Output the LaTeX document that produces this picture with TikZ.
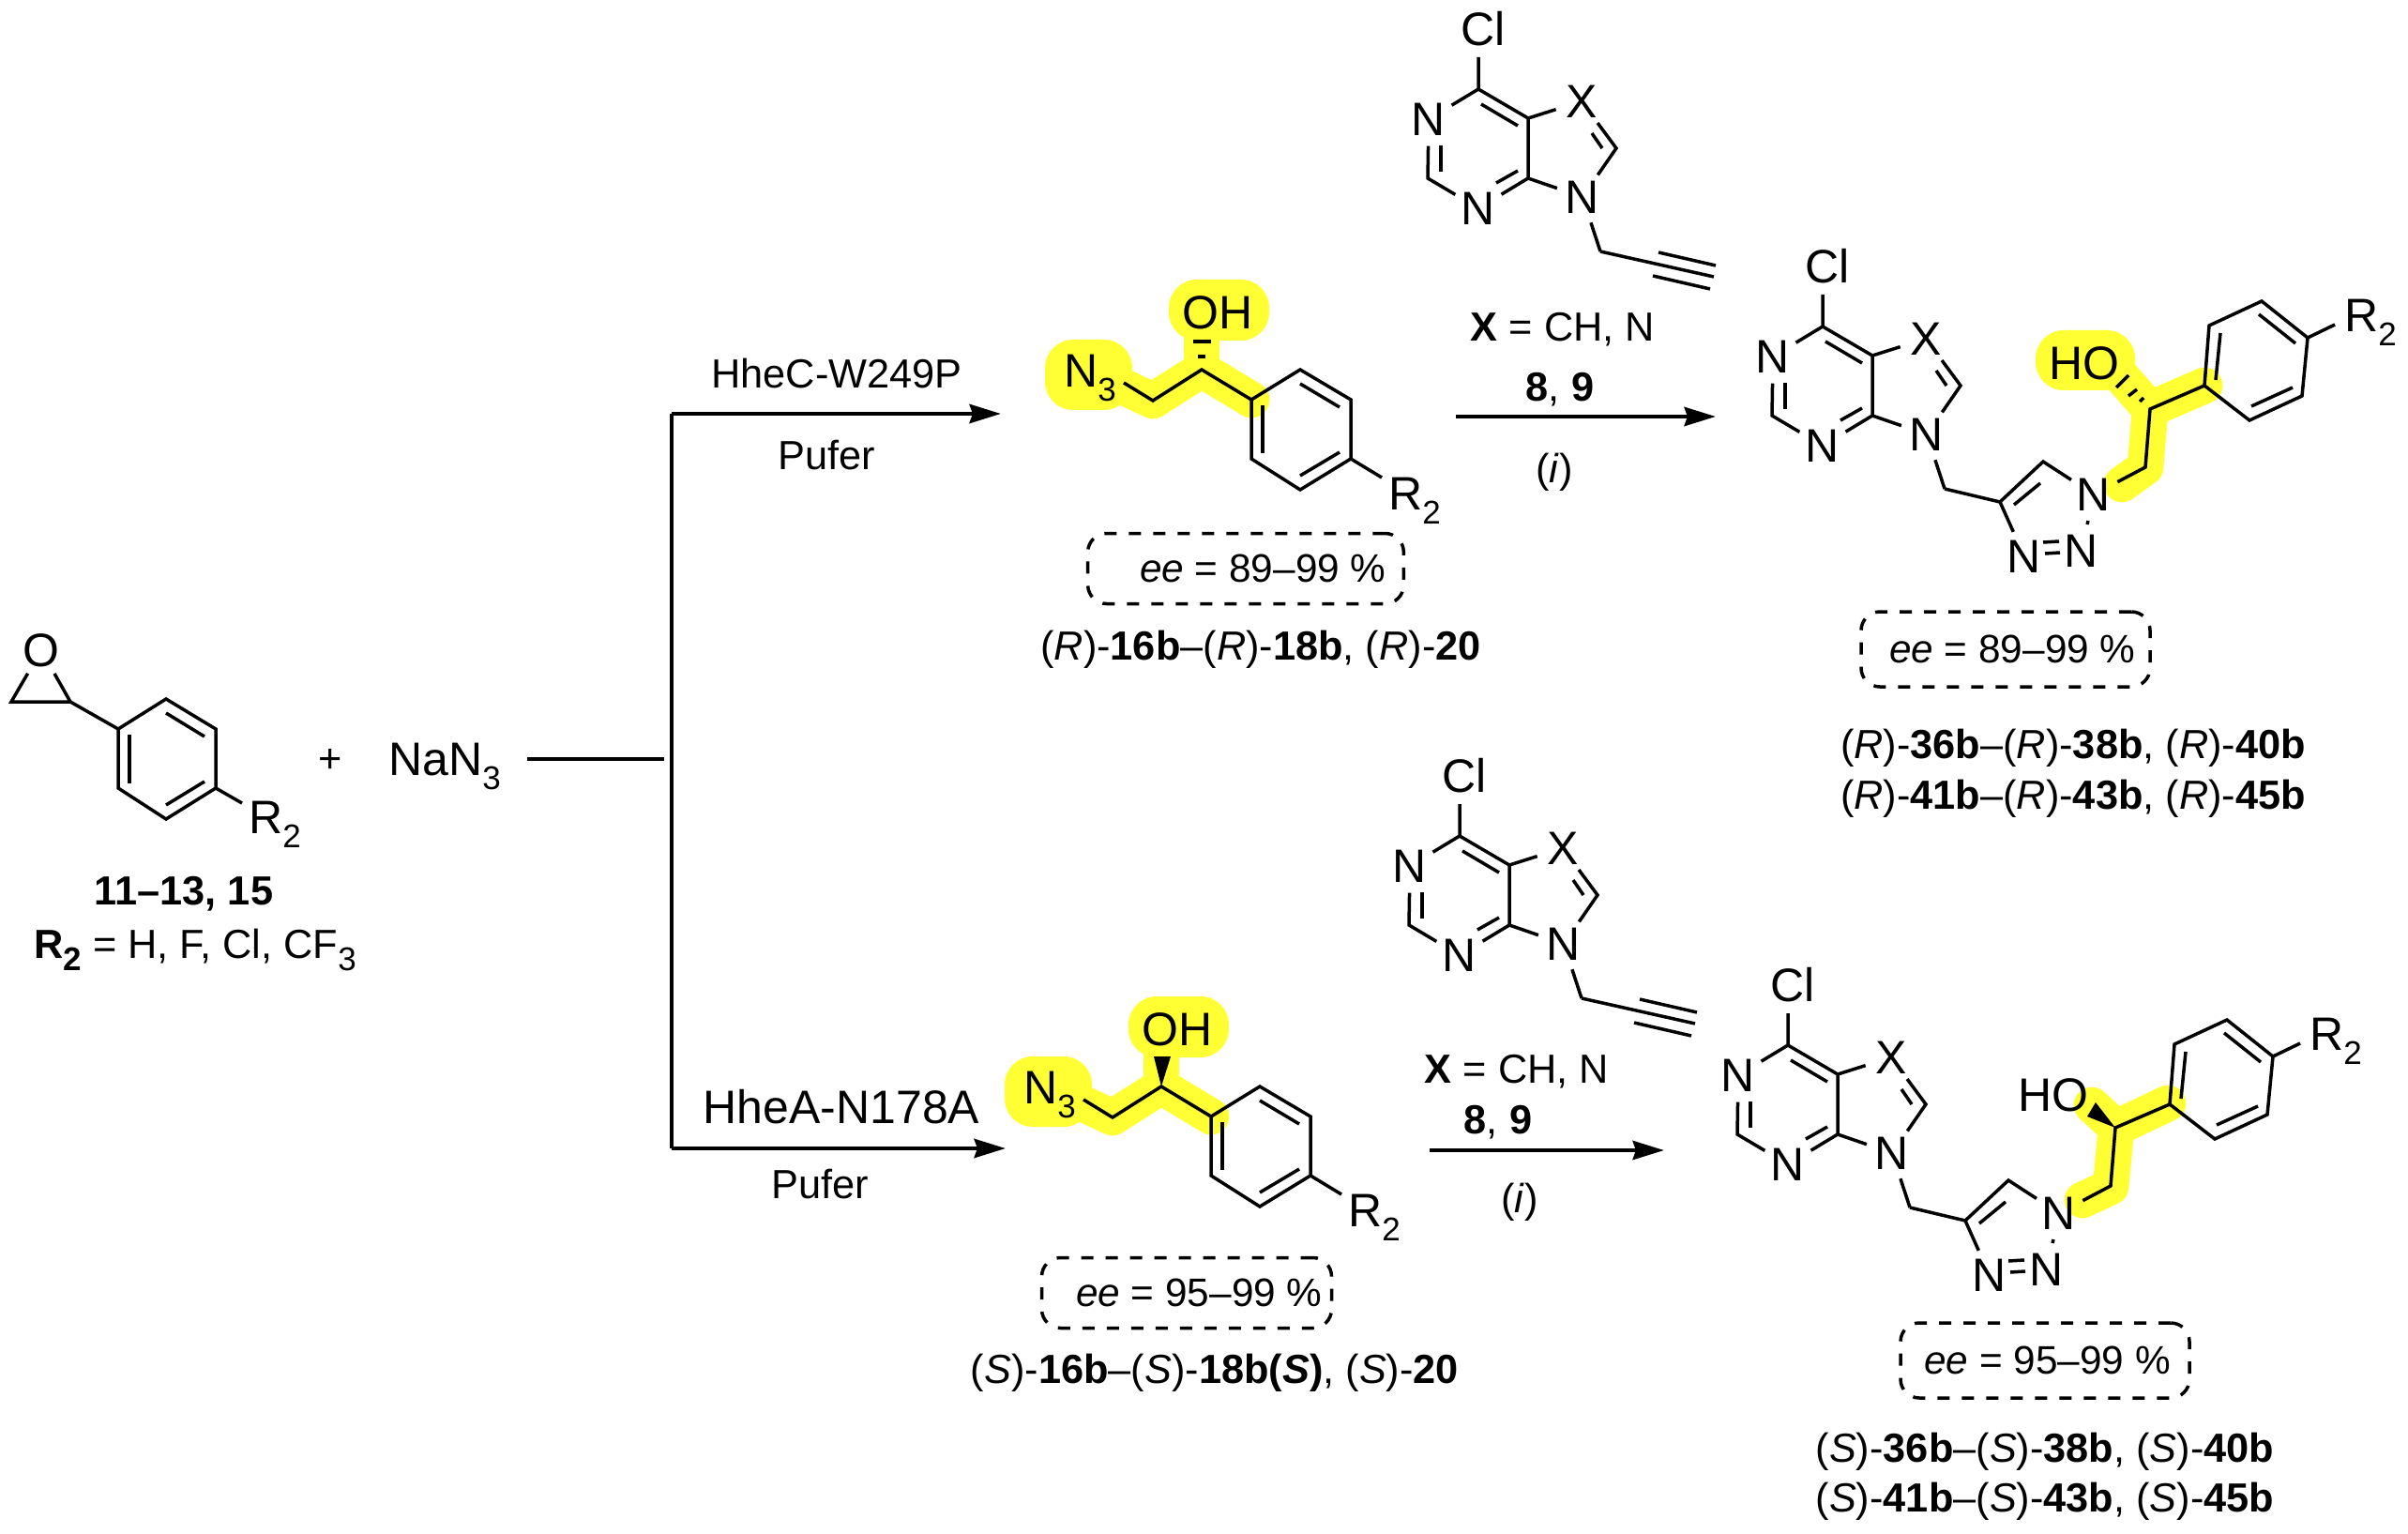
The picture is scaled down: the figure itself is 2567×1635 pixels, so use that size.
\documentclass[tikz,border=0pt]{standalone}
\usepackage{fontspec}
\setmainfont{Liberation Sans}
\usetikzlibrary{arrows.meta}
\definecolor{marker}{HTML}{FFFF33}
\newcommand{\subs}[1]{\raisebox{-.3em}{\fontsize{10.5}{10.5}\selectfont #1}}
\tikzset{
  bond/.style={line width=1.05pt},
  branch/.style={line width=1.25pt},
  rxn/.style={line width=1.4pt,-{Stealth[length=10pt,width=6pt,inset=1pt]}},
  glow/.style={draw=marker,line width=11.6pt,line cap=round,line join=round},
  blob/.style={fill=marker,rounded corners=9pt},
  atom/.style={circle,inner sep=0pt,minimum size=16.8pt,font=\fontsize{15}{17}\selectfont},
  big/.style={inner sep=0pt,font=\fontsize{15}{17}\selectfont},
  tag/.style={inner sep=0pt,font=\fontsize{13}{15}\selectfont},
  eebox/.style={draw,line width=1.05pt,dash pattern=on 3.9pt off 3.9pt,rounded corners=6pt,inner sep=0pt,minimum height=22.5pt,font=\fontsize{12.7}{15}\selectfont},
  purine/.pic={
    \coordinate (c6) at (0,0);
    \coordinate (ct) at (0,-34);
    \coordinate (c2) at (-54,95);
    \coordinate (c4) at (53,95);
    \coordinate (c5) at (53,31);
    \coordinate (c8) at (147,63);
    \coordinate (ch) at (130,173);
    \node[big] (cl) at (5,-64) {Cl};
    \node[atom] (n1) at (-53,32) {N};
    \node[atom] (n3) at (0,127) {N};
    \node[atom] (x) at (110,13) {X};
    \node[atom] (n9) at (111,115) {N};
    \draw[bond] (ct) -- (c6) -- (n1) -- (c2) -- (n3);
    \draw[bond] (c6) -- (c5) -- (c4) -- (n3);
    \draw[bond] (c5) -- (x) -- (c8) -- (n9) -- (c4);
    \draw[bond] (n9) -- (ch);
    \draw[bond] (-40,60) -- (-40,88);
    \draw[bond] (3,16) -- (42,39);
    \draw[bond] (42,87) -- (19,100);
    \draw[bond] (121,47) -- (132,63);
  },
  reagent/.pic={
    \pic (p) at (0,0) {purine};
    \coordinate (yne) at (251,200);
    \draw[bond] (pch) -- (yne);
    \draw[bond] (192,174) -- (253,188);
    \draw[bond] (186,199) -- (247,213);
  },
  azido/.pic={
    \fill[blob] (-220,-64) rectangle (-127,11);
    \fill[blob] (-88,-128) rectangle (19,-63);
    \draw[glow] (-150,-20) -- (-105,1) -- (-53,-32) -- (0,0);
    \draw[glow] (-53,-32) -- (-53,-85);
    \coordinate (ipso) at (0,0);
    \coordinate (ca) at (52,-32);
    \coordinate (cb) at (106,0);
    \coordinate (cc) at (106,63);
    \coordinate (cd) at (52,96);
    \coordinate (ce) at (0,63);
    \coordinate (cs) at (-53,-32);
    \coordinate (cm) at (-105,1);
    \coordinate (nb) at (-136,-18);
    \coordinate (rb) at (139,83);
    \node[big] (oh) at (-36,-93) {OH};
    \node[big] (az) at (-172,-23) {N\subs{3}};
    \node[big] (r) at (174,108) {R\subs{2}};
    \draw[bond] (ipso) -- (ca) -- (cb) -- (cc) -- (cd) -- (ce) -- cycle;
    \draw[bond] (nb) -- (cm) -- (cs) -- (ipso);
    \draw[bond] (cc) -- (rb);
    \draw[bond] (52,-17) -- (94,8);
    \draw[bond] (12,6) -- (12,57);
    \draw[bond] (52,81) -- (94,56);
  },
  product/.pic={
    \pic (p) at (0,0) {purine};
    \coordinate (t4) at (189,187);
    \coordinate (t5) at (235,144);
    \coordinate (c1) at (344,150);
    \coordinate (cs) at (349,88);
    \coordinate (ipso) at (407,63);
    \coordinate (ca) at (412,-1);
    \coordinate (cb) at (468,-27);
    \coordinate (cc) at (517,12);
    \coordinate (cd) at (511,74);
    \coordinate (ce) at (455,100);
    \coordinate (rb) at (546,-2);
    \node[atom] (t1) at (289,179) {N};
    \node[atom] (t3) at (215,245) {N};
    \node[atom] (t2) at (276,239) {N};
    \node[big] (r) at (584,-4) {R\subs{2}};
    \draw[bond] (pch) -- (t4) -- (t5) -- (t1) -- (c1) -- (cs) -- (ipso);
    \draw[bond] (t4) -- (t3);
    \draw[bond] (t1) -- (t2);
    \draw[bond] (ipso) -- (ca) -- (cb) -- (cc) -- (cd) -- (ce) -- cycle;
    \draw[bond] (cc) -- (rb);
    \draw[bond] (204,190) -- (232,167);
    \draw[bond] (235,230) -- (252,229);
    \draw[bond] (237,242) -- (253,241);
    \draw[bond] (424,7) -- (419,57);
    \draw[bond] (465,-13) -- (504,18);
    \draw[bond] (501,65) -- (457,85);
  }
}
\begin{document}
\begin{tikzpicture}[x=.3pt,y=-.3pt]
  \useasboundingbox (0,0) rectangle (2567,1635);

  \node[atom] (oxy) at (44,693) {O};
  \coordinate (epa) at (12,748);
  \coordinate (epb) at (75,748);
  \coordinate (ra) at (126,777);
  \coordinate (rb) at (177,745);
  \coordinate (rc) at (230,777);
  \coordinate (rd) at (230,840);
  \coordinate (re) at (177,873);
  \coordinate (rf) at (126,840);
  \coordinate (rend) at (258,856);
  \node[big] (rtwo) at (293,879) {R\subs{2}};
  \draw[bond] (oxy) -- (epa) -- (epb) -- (oxy);
  \draw[bond] (epb) -- (ra);
  \draw[bond] (ra) -- (rb) -- (rc) -- (rd) -- (re) -- (rf) -- cycle;
  \draw[bond] (rd) -- (rend);
  \draw[bond] (177,760) -- (218,785);
  \draw[bond] (138,783) -- (138,835);
  \draw[bond] (177,858) -- (218,833);
  \node[tag] (cmpd) at (196,953) {\textbf{11--13, 15}};
  \node[tag] (rlist) at (208,1012) {\textbf{R\subs{2}} = H, F, Cl, CF\subs{3}};
  \node[tag] (plus) at (352,811) {+};
  \node[big] (nan) at (474,817) {NaN\subs{3}};

  \coordinate (mix) at (562,809);
  \coordinate (mixend) at (708,809);
  \coordinate (splita) at (716,441);
  \coordinate (splitb) at (716,1224);
  \coordinate (arra) at (1067,441);
  \coordinate (arrb) at (1072,1224);
  \draw[branch] (mix) -- (mixend);
  \draw[branch] (splita) -- (splitb);
  \draw[rxn] (splita) -- (arra);
  \draw[rxn] (splitb) -- (arrb);
  \node[tag] (enza) at (892,398) {HheC-W249P};
  \node[tag] (bufa) at (881,485) {Pufer};
  \node[big] (enzb) at (897,1180) {HheA-N178A};
  \node[tag] (bufb) at (874,1262) {Pufer};

  \pic (a) at (1334,426) {azido};
  \draw[bond] (1277,380) -- (1285,380);
  \draw[bond] (1272,364) -- (1291,364);
  \node[eebox,minimum width=101pt] (eea) at (1328,606) {\hspace*{11pt}\textit{ee} = 89--99 \%};
  \node[tag] (namea) at (1344,692) {(\textit{R})-\textbf{16b}--(\textit{R})-\textbf{18b}, (\textit{R})-\textbf{20}};

  \pic (b) at (1291,1190) {azido};
  \fill (bcs) -- (1230,1126) -- (1248,1126) -- cycle;
  \node[eebox,minimum width=92.7pt] (eeb) at (1265,1378) {\hspace*{8pt}\textit{ee} = 95--99 \%};
  \node[tag] (nameb) at (1295,1463) {(\textit{S})-\textbf{16b}--(\textit{S})-\textbf{18b(\textit{S})}, (\textit{S})-\textbf{20}};

  \pic (ra) at (1576,95) {reagent};
  \node[tag] (xa) at (1666,351) {\textbf{X} = CH, N};
  \node[tag] (numa) at (1663,415) {\textbf{8}, \textbf{9}};
  \coordinate (stepa) at (1552,444);
  \coordinate (stepae) at (1829,444);
  \draw[rxn] (stepa) -- (stepae);
  \node[tag] (ia) at (1657,503) {(\textit{i})};

  \pic (rb) at (1556,891) {reagent};
  \node[tag] (xb) at (1617,1142) {\textbf{X} = CH, N};
  \node[tag] (numb) at (1597,1196) {\textbf{8}, \textbf{9}};
  \coordinate (stepb) at (1524,1226);
  \coordinate (stepbe) at (1774,1226);
  \draw[rxn] (stepb) -- (stepbe);
  \node[tag] (ib) at (1620,1281) {(\textit{i})};

  \fill[blob] (2170,352) rectangle (2276,416);
  \draw[glow] (2262,516) -- (2287,498) -- (2292,436) -- (2350,411);
  \draw[glow] (2292,436) -- (2262,402);
  \pic (c) at (1943,348) {product};
  \node[big] (hoa) at (2222,387) {HO};
  \draw[bond] (2281,428) -- (2285,424);
  \draw[bond] (2269,422) -- (2278,415);
  \draw[bond] (2256,413) -- (2269,400);
  \node[eebox,minimum width=92.4pt,minimum height=24pt] (eec) at (2138,692) {\hspace*{4.4pt}\textit{ee} = 89--99 \%};
  \node[tag] (namec) at (2210,797) {(\textit{R})-\textbf{36b}--(\textit{R})-\textbf{38b}, (\textit{R})-\textbf{40b}};
  \node[tag] (named) at (2210,851) {(\textit{R})-\textbf{41b}--(\textit{R})-\textbf{43b}, (\textit{R})-\textbf{45b}};

  \draw[glow] (2220,1279) -- (2250,1265) -- (2256,1202) -- (2311,1176);
  \draw[glow] (2256,1202) -- (2230,1178);
  \pic (d) at (1906,1114) {product};
  \node[big] (hob) at (2189,1167) {HO};
  \fill (dcs) -- (2234,1175) -- (2225,1190) -- cycle;
  \node[eebox,minimum width=92.4pt,minimum height=24pt] (eed) at (2180,1450) {\hspace*{1.5pt}\textit{ee} = 95--99 \%};
  \node[tag] (namee) at (2180,1547) {(\textit{S})-\textbf{36b}--(\textit{S})-\textbf{38b}, (\textit{S})-\textbf{40b}};
  \node[tag] (namef) at (2180,1600) {(\textit{S})-\textbf{41b}--(\textit{S})-\textbf{43b}, (\textit{S})-\textbf{45b}};
\end{tikzpicture}
\end{document}
